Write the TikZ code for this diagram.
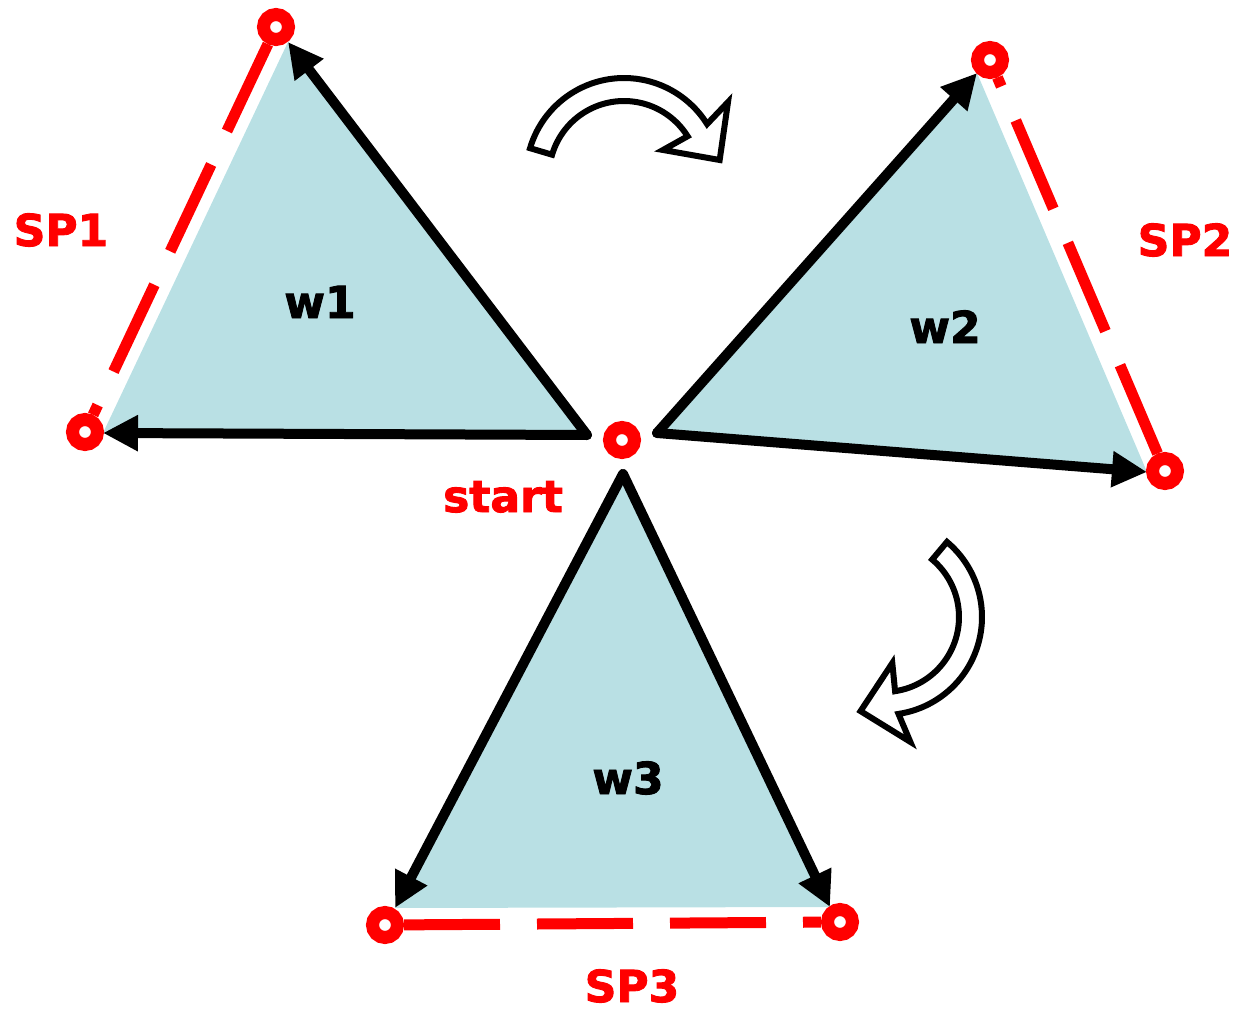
\documentclass[tikz,border=0pt]{standalone}
\usepackage{fontspec}
\setmainfont{DejaVu Sans}
\newfontfamily\heavyfont{DejaVu Sans}[BoldFeatures={FakeBold=2}]
\usetikzlibrary{arrows.meta}
\definecolor{tfill}{RGB}{185,224,228}
\tikzset{
 tri/.style={fill=tfill, draw=none},
 blk/.style={draw=black, line width=5pt, line cap=round, -{Triangle[length=17.5pt,width=17pt]}},
 spline/.style={draw=red, line width=5.5pt, dash pattern=on 48pt off 18.5pt},
 ring/.style={circle, draw=red, line width=6.5pt, minimum size=12.5pt, inner sep=0pt, fill=white},
 lbl/.style={font=\heavyfont\bfseries\fontsize{22}{26}\selectfont, inner sep=0pt, anchor=base},
 barrow/.style={draw=black, fill=white, line width=3pt, line join=miter}
}
\begin{document}
\begin{tikzpicture}[x=0.5pt,y=0.5pt]
\useasboundingbox (0,0) rectangle (1242,-1011);
% triangle vertices
\coordinate (A1) at (288,-42);
\coordinate (B1) at (103,-433);
\coordinate (C1) at (587,-435);
\coordinate (A2) at (977,-73);
\coordinate (B2) at (1147,-472);
\coordinate (C2) at (657,-433);
\coordinate (A3) at (623,-474);
\coordinate (B3) at (395,-908);
\coordinate (C3) at (830,-907);
% fills
\fill[tri] (A1) -- (B1) -- (C1) -- cycle;
\fill[tri] (A2) -- (B2) -- (C2) -- cycle;
\fill[tri] (A3) -- (B3) -- (C3) -- cycle;
% black arrows
\draw[blk] (C1) -- (A1);
\draw[blk] (C1) -- (B1);
\draw[blk] (C2) -- (A2);
\draw[blk] (C2) -- (B2);
\draw[blk] (A3) -- (B3);
\draw[blk] (A3) -- (C3);
% red rings
\node[ring] (s1a) at (276,-27) {};
\node[ring] (s1b) at (85,-432) {};
\node[ring] (s2a) at (990,-60) {};
\node[ring] (s2b) at (1165,-471) {};
\node[ring] (s3a) at (385,-925) {};
\node[ring] (s3b) at (840,-922) {};
\node[ring] (st) at (622,-440) {};
% red dashed lines
\draw[spline] (s1a) -- (s1b);
\draw[spline] (s2b) -- (s2a);
\draw[spline] (s3a) -- (s3b);
% labels
\node[lbl, text=red] (lsp1) at (61,-246) {SP1};
\node[lbl, text=red] (lsp2) at (1185,-256) {SP2};
\node[lbl, text=red] (lsp3) at (632,-1002) {SP3};
\node[lbl, text=red] (lst) at (503,-512) {start};
\node[lbl] (lw1) at (320,-318) {w1};
\node[lbl] (lw2) at (945,-343) {w2};
\node[lbl] (lw3) at (628,-794) {w3};
% curved block arrows
\begin{scope}[shift={(624,-176)}]
\draw[barrow] plot[domain=163.5:32,samples=50] ({98*cos(\x)},{98*sin(\x)}) -- (35.4:127.6) -- (9.5:97) -- (33.7:46.9) -- plot[domain=32:163.5,samples=50] ({75*cos(\x)},{75*sin(\x)}) -- cycle;
\end{scope}
\begin{scope}[shift={(884,-617)}, rotate=-113.5]
\draw[barrow] plot[domain=163.5:32,samples=50] ({98*cos(\x)},{98*sin(\x)}) -- (35.4:127.6) -- (9.5:97) -- (33.7:46.9) -- plot[domain=32:163.5,samples=50] ({75*cos(\x)},{75*sin(\x)}) -- cycle;
\end{scope}
\end{tikzpicture}
\end{document}
